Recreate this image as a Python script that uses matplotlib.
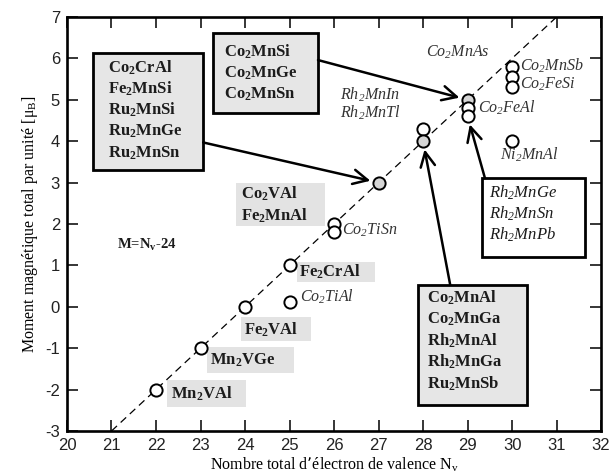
import matplotlib
matplotlib.use("Agg")
import matplotlib.pyplot as plt
from matplotlib.patches import Rectangle

plt.rcParams['mathtext.default'] = 'regular'
plt.rcParams['axes.unicode_minus'] = False

# valence electrons and total spin moment of each compound (circles)
nv_points = [22, 23, 24, 25, 25, 26, 26, 27, 28, 28, 29, 29, 29, 30, 30, 30, 30]
m_points = [-2, -1, 0, 1, 0.12, 2.0, 1.8, 3, 4.3, 4.0, 5.0, 4.8, 4.6, 5.8, 5.55, 5.3, 4.0]
filled = [False, False, False, False, False, False, False, True, False, True,
          True, False, False, False, False, False, False]

# Slater-Pauling rule M = Nv - 24
rule_nv = [21, 31]
rule_m = [-3, 7]

x_ticks = list(range(20, 33))
y_ticks = list(range(-3, 8))

SERIF = 'Liberation Serif'
SANS = 'Liberation Sans'
INK = '#1c1c1c'


def framed(ax, x0, y0, x1, y1, lines, tx, ty0, fc, style='normal', weight='bold'):
    ax.add_patch(Rectangle((x0, y0), x1 - x0, y1 - y0, facecolor=fc,
                           edgecolor='black', lw=2.0, zorder=4))
    for i, s in enumerate(lines):
        ax.text(tx, ty0 - i * 0.515, s, family=SERIF, fontsize=12,
                fontweight=weight, style=style, color=INK,
                va='center', ha='left', zorder=5)


def shaded(ax, x0, y0, x1, y1, lines, tx, ty0):
    ax.add_patch(Rectangle((x0, y0), x1 - x0, y1 - y0, facecolor='#e3e3e3',
                           edgecolor='none', zorder=1))
    for i, s in enumerate(lines):
        ax.text(tx, ty0 - i * 0.515, s, family=SERIF, fontsize=12,
                fontweight='bold', color=INK, va='center', ha='left', zorder=5)


def arrow(ax, start, end):
    ax.annotate('', xy=end, xytext=start,
                arrowprops=dict(arrowstyle='->', lw=1.8, color='black',
                                mutation_scale=26, shrinkA=0, shrinkB=6),
                zorder=6)


fig = plt.figure(figsize=(6.09, 4.75), dpi=100)
ax = fig.add_axes([0.110, 0.0926, 0.877, 0.8716])

ax.plot(rule_nv, rule_m, color='black', lw=0.9, dashes=(6, 4), zorder=2)

for x, y, f in zip(nv_points, m_points, filled):
    ax.plot(x, y, 'o', ms=8.8, mfc='#d6d6d6' if f else 'white',
            mec='black', mew=1.4, zorder=3)

# framed groups with arrows
framed(ax, 20.58, 3.31, 23.06, 6.13,
       ['Co$_2$CrAl', 'Fe$_2$MnSi', 'Ru$_2$MnSi', 'Ru$_2$MnGe', 'Ru$_2$MnSn'],
       20.92, 5.78, '#e6e6e6')
arrow(ax, (23.06, 3.97), (27, 3))

framed(ax, 23.28, 4.68, 25.64, 6.61,
       ['Co$_2$MnSi', 'Co$_2$MnGe', 'Co$_2$MnSn'],
       23.53, 6.16, '#e6e6e6')
arrow(ax, (25.64, 5.96), (29, 5.0))

framed(ax, 27.89, -2.36, 30.34, 0.53,
       ['Co$_2$MnAl', 'Co$_2$MnGa', 'Rh$_2$MnAl', 'Rh$_2$MnGa', 'Ru$_2$MnSb'],
       28.09, 0.21, '#e6e6e6')
arrow(ax, (28.61, 0.53), (28, 4.0))

framed(ax, 29.33, 1.20, 31.64, 3.11,
       ['Rh$_2$MnGe', 'Rh$_2$MnSn', 'Rh$_2$MnPb'],
       29.48, 2.76, 'white', style='italic', weight='normal')
arrow(ax, (29.39, 3.11), (29, 4.6))

# shaded labels
shaded(ax, 23.80, 1.95, 25.80, 2.99, ['Co$_2$VAl', 'Fe$_2$MnAl'], 23.9, 2.72)
shaded(ax, 25.17, 0.60, 26.92, 1.09, ['Fe$_2$CrAl'], 25.22, 0.84)
shaded(ax, 23.92, -0.83, 25.49, -0.25, ['Fe$_2$VAl'], 23.98, -0.56)
shaded(ax, 23.15, -1.60, 25.09, -0.97, ['Mn$_2$VGe'], 23.22, -1.29)
shaded(ax, 22.25, -2.43, 24.02, -1.76, ['Mn$_2$VAl'], 22.33, -2.11)

# italic labels
italic = [
    ('Co$_2$TiSn', 26.18, 1.85), ('Co$_2$TiAl', 25.24, 0.24),
    ('Co$_2$MnAs', 28.07, 6.15), ('Rh$_2$MnIn', 26.13, 5.12),
    ('Rh$_2$MnTl', 26.13, 4.68), ('Co$_2$MnSb', 30.18, 5.82),
    ('Co$_2$FeSi', 30.18, 5.38), ('Co$_2$FeAl', 29.24, 4.80),
    ('Ni$_2$MnAl', 29.73, 3.67),
]
for s, x, y in italic:
    ax.text(x, y, s, family=SERIF, fontsize=11.5, style='italic',
            color='#333333', va='center', ha='left', zorder=5)

ax.text(21.12, 1.5, 'M=N$_v$-24', family=SERIF, fontsize=10.5,
        fontweight='bold', color=INK, va='center', ha='left')

ax.set_xlim(20, 32)
ax.set_ylim(-3, 7)
ax.set_xticks(x_ticks)
ax.set_yticks(y_ticks)
ax.tick_params(direction='in', length=8, width=1.1, top=True, right=True,
               labelsize=12, pad=5)
for lab in ax.get_xticklabels() + ax.get_yticklabels():
    lab.set_family(SANS)
    lab.set_color('#222222')
for sp in ax.spines.values():
    sp.set_linewidth(1.9)

ax.set_xlabel("Nombre total d’électron de valence N$_v$", family=SERIF,
              fontsize=11.5, labelpad=2)
ax.set_ylabel("Moment magnétique total par unité [μ$_B$]", family=SERIF,
              fontsize=11.5, labelpad=4)

fig.savefig('out.png', dpi=100)
